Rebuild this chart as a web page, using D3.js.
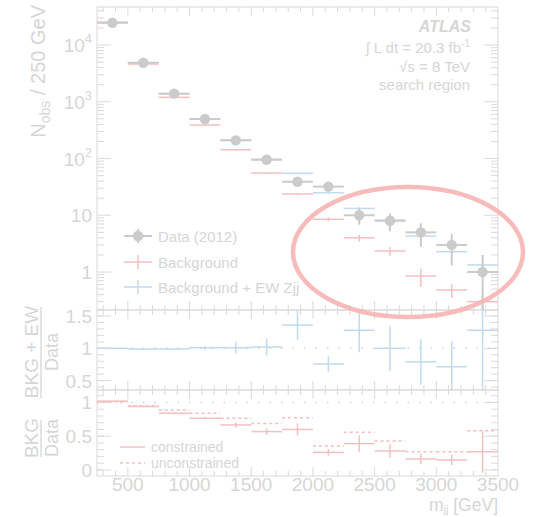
<!DOCTYPE html>
<html><head><meta charset="utf-8">
<script src="https://cdn.jsdelivr.net/npm/d3@7"></script>
<style>
html,body{margin:0;padding:0;background:#fff;}
text{font-family:"Liberation Sans",Arial,Helvetica,sans-serif;}
</style></head>
<body>
<svg id="c" width="533" height="517"></svg>
<script>
// ---------------- data ----------------
const binEdges = [250,500,750,1000,1250,1500,1750,2000,2250,2500,2750,3000,3250,3500];
const dataN    = [24700,4870,1390,497,209,95,39,32,10,8,5,3,1];
const dataErr  = [157,70,37,22,14.5,9.7,6.2,5.7,3.2,2.8,2.2,1.7,1.0];
const bkg      = [25200,4630,1197,389,143,55.5,23.7,8.5,4.0,2.34,0.85,0.48,0.30];
const bkgErr   = [100,40,15,6,3,1.5,0.9,0.7,0.55,0.42,0.3,0.13,0.1];
const bkgEW    = [24700,4820,1376,502,211,97,54.8,25,13.2,8.2,4.3,2.28,1.33];
const bkgEWErr = [100,40,15,6,3,1.5,1.2,0.8,0.6,0.45,0.3,0.15,0.12];
const ratioEW     = [1.0,0.99,0.99,1.01,1.01,1.02,1.36,0.757,1.28,1.0,0.79,0.715,1.28];
const ratioEWErr  = [0.01,0.01,0.015,0.03,0.09,0.13,0.23,0.12,0.34,0.35,0.35,0.39,1.3];
const ratioCon    = [1.02,0.94,0.84,0.766,0.667,0.568,0.60,0.26,0.39,0.28,0.163,0.148,0.27];
const ratioConErr = [0.005,0.01,0.015,0.02,0.04,0.05,0.09,0.05,0.12,0.1,0.075,0.075,0.31];
const ratioUncon  = [1.01,0.95,0.89,0.84,0.766,0.69,0.775,0.355,0.56,0.43,0.27,0.27,0.58];
const xTickLabels = [500,1000,1500,2000,2500,3000,3500];
const mainTickLabels = [1,10,100,1000,10000];
const midTickLabels = [0.5,1,1.5];
const botTickLabels = [0,0.5,1];

// ---------------- style ----------------
const TXT = "#d6d6d6", FRAME = "#dadada", DATA = "#cbcbcb", RED = "#f5bfbf", BLUE = "#c3d9ee", DOT = "#d2d2d2";

const svg = d3.select("#c");
const X0 = 97, X1 = 498;
const x = d3.scaleLinear().domain([250,3500]).range([X0,X1]);
const yMain = d3.scaleLog().domain([0.214,46800]).range([310,7]);
const yMid = d3.scaleLinear().domain([0.355,1.593]).range([390,310]);
const yBot = d3.scaleLinear().domain([-0.09,1.185]).range([476,390]);

const bins = dataN.map((d,i)=>({i, lo:binEdges[i], hi:binEdges[i+1], c:(binEdges[i]+binEdges[i+1])/2}));

function clampY(y, v){ const r=y.range(); const lo=Math.min(r[0],r[1]), hi=Math.max(r[0],r[1]); return Math.max(lo,Math.min(hi,v)); }
function yv(y, v){ if (y===yMain && v<=0) return yMain.range()[0]; return clampY(y, y(v)); }

// frames and ticks
function panelFrame(y, top, bottom, majorY, minorY){
  const g = svg.append("g");
  g.append("rect").attr("x",X0).attr("y",top).attr("width",X1-X0).attr("height",bottom-top)
    .attr("fill","none").attr("stroke",FRAME).attr("stroke-width",1);
  const xMinor = d3.range(300,3500,100);
  xMinor.forEach(v=>{
    const major = v%500===0;
    const L = major?9:5;
    g.append("line").attr("x1",x(v)).attr("x2",x(v)).attr("y1",bottom).attr("y2",bottom-L).attr("stroke",FRAME);
    g.append("line").attr("x1",x(v)).attr("x2",x(v)).attr("y1",top).attr("y2",top+L).attr("stroke",FRAME);
  });
  minorY.forEach(v=>{
    const yy=y(v); if (yy<top-0.5||yy>bottom+0.5) return;
    g.append("line").attr("x1",X0).attr("x2",X0+7).attr("y1",yy).attr("y2",yy).attr("stroke",FRAME);
    g.append("line").attr("x1",X1).attr("x2",X1-7).attr("y1",yy).attr("y2",yy).attr("stroke",FRAME);
  });
  majorY.forEach(v=>{
    const yy=y(v); if (yy<top-0.5||yy>bottom+0.5) return;
    g.append("line").attr("x1",X0).attr("x2",X0+14).attr("y1",yy).attr("y2",yy).attr("stroke",FRAME);
    g.append("line").attr("x1",X1).attr("x2",X1-14).attr("y1",yy).attr("y2",yy).attr("stroke",FRAME);
  });
}
const logMinor = [];
[0.1,1,10,100,1000,10000].forEach(d=>{ for(let k=2;k<=9;k++) logMinor.push(d*k); });
panelFrame(yMain, 7, 310, mainTickLabels, logMinor);
panelFrame(yMid, 310, 390, midTickLabels, d3.range(0.4,1.61,0.1).map(v=>+v.toFixed(2)));
panelFrame(yBot, 390, 476, botTickLabels, d3.range(-0.0,1.19,0.1).map(v=>+v.toFixed(2)));

// tick labels
const FS = 19;
mainTickLabels.forEach(v=>{
  const t = svg.append("text").attr("x",92).attr("y",yMain(v)+7).attr("text-anchor","end")
    .attr("fill",TXT).attr("font-size",FS);
  if (v<=10) t.text(v);
  else { t.append("tspan").text("10"); t.append("tspan").attr("dy",-9).attr("font-size",13).text(Math.round(Math.log10(v))); }
});
midTickLabels.forEach(v=>{
  svg.append("text").attr("x",92).attr("y",yMid(v)+7).attr("text-anchor","end").attr("fill",TXT).attr("font-size",FS).text(v);
});
botTickLabels.forEach(v=>{
  svg.append("text").attr("x",92).attr("y",yBot(v)+7).attr("text-anchor","end").attr("fill",TXT).attr("font-size",FS).text(v);
});
xTickLabels.forEach(v=>{
  svg.append("text").attr("x",x(v)).attr("y",491).attr("text-anchor","middle").attr("fill",TXT).attr("font-size",FS).text(v);
});

// axis titles
const yt = svg.append("text").attr("transform","translate(45,5) rotate(-90)").attr("text-anchor","end")
  .attr("fill",TXT).attr("font-size",20);
yt.append("tspan").text("N");
yt.append("tspan").attr("dy",5).attr("font-size",14).text("obs");
yt.append("tspan").attr("dy",-5).text(" / 250 GeV");

function fracTitle(num, cy){
  svg.append("text").attr("transform",`translate(38,${cy}) rotate(-90)`).attr("text-anchor","middle")
    .attr("fill",TXT).attr("font-size",19).text(num);
  svg.append("text").attr("transform",`translate(58,${cy}) rotate(-90)`).attr("text-anchor","middle")
    .attr("fill",TXT).attr("font-size",18).text("Data");
}
fracTitle("BKG + EW", 352);
svg.append("line").attr("x1",41).attr("x2",41).attr("y1",307).attr("y2",398).attr("stroke",TXT).attr("stroke-width",1.3);
fracTitle("BKG", 438);
svg.append("line").attr("x1",41).attr("x2",41).attr("y1",420).attr("y2",457).attr("stroke",TXT).attr("stroke-width",1.3);

const xt = svg.append("text").attr("x",498).attr("y",511).attr("text-anchor","end").attr("fill",TXT).attr("font-size",17.5);
xt.append("tspan").text("m");
xt.append("tspan").attr("dy",1.5).attr("font-size",11).text("jj");
xt.append("tspan").attr("dy",-1.5).text(" [GeV]");

// ------------- main panel marks -------------
function hists(g, vals, errs, y, color, width, dash){
  const s = g.selectAll(null).data(bins).enter().append("g");
  s.append("line").attr("x1",d=>x(d.lo)).attr("x2",d=>x(d.hi))
    .attr("y1",d=>yv(y,vals[d.i])).attr("y2",d=>yv(y,vals[d.i]))
    .attr("stroke",color).attr("stroke-width",width).attr("stroke-dasharray",dash||null);
  if (errs) s.append("line").attr("x1",d=>x(d.c)).attr("x2",d=>x(d.c))
    .attr("y1",d=>yv(y,vals[d.i]-errs[d.i])).attr("y2",d=>yv(y,vals[d.i]+errs[d.i]))
    .attr("stroke",color).attr("stroke-width",width);
}
const gm = svg.append("g");
hists(gm, bkg, bkgErr, yMain, RED, 1.5);
hists(gm, bkgEW, bkgEWErr, yMain, BLUE, 1.5);
// data
const gd = gm.selectAll(null).data(bins).enter().append("g");
gd.append("line").attr("x1",d=>x(d.lo)).attr("x2",d=>x(d.hi))
  .attr("y1",d=>yMain(dataN[d.i])).attr("y2",d=>yMain(dataN[d.i])).attr("stroke",DATA).attr("stroke-width",2);
gd.append("line").attr("x1",d=>x(d.c)).attr("x2",d=>x(d.c))
  .attr("y1",d=>yv(yMain,dataN[d.i]-dataErr[d.i])).attr("y2",d=>yv(yMain,dataN[d.i]+dataErr[d.i]))
  .attr("stroke",DATA).attr("stroke-width",2);
gd.append("circle").attr("cx",d=>x(d.c)).attr("cy",d=>yMain(dataN[d.i])).attr("r",5.2).attr("fill",DATA);

// legend main
function legLine(y0, color, w){
  svg.append("line").attr("x1",124).attr("x2",152).attr("y1",y0).attr("y2",y0).attr("stroke",color).attr("stroke-width",w);
  svg.append("line").attr("x1",138).attr("x2",138).attr("y1",y0-7).attr("y2",y0+7).attr("stroke",color).attr("stroke-width",w);
}
legLine(236, DATA, 2);
svg.append("circle").attr("cx",138).attr("cy",236).attr("r",5.2).attr("fill",DATA);
legLine(262, RED, 1.5);
legLine(287, BLUE, 1.5);
[["Data (2012)",236],["Background",262],["Background + EW Zjj",287]].forEach(([t,yy])=>{
  svg.append("text").attr("x",158).attr("y",yy+5.5).attr("fill",TXT).attr("font-size",15).text(t);
});

// ATLAS label
svg.append("text").attr("x",471).attr("y",32).attr("text-anchor","end").attr("fill",TXT)
  .attr("font-size",16).attr("font-weight","bold").attr("font-style","italic").text("ATLAS");
const lum = svg.append("text").attr("x",470).attr("y",53).attr("text-anchor","end").attr("fill",TXT).attr("font-size",15);
lum.append("tspan").text("\u222B L dt = 20.3 fb");
lum.append("tspan").attr("dy",-6).attr("font-size",10).text("-1");
svg.append("text").attr("x",470).attr("y",72).attr("text-anchor","end").attr("fill",TXT).attr("font-size",15).text("\u221As = 8 TeV");
svg.append("text").attr("x",470).attr("y",90).attr("text-anchor","end").attr("fill",TXT).attr("font-size",15).text("search region");

// ------------- ratio panels -------------
svg.append("line").attr("x1",X0).attr("x2",X1).attr("y1",yMid(1)).attr("y2",yMid(1)).attr("stroke",DOT).attr("stroke-width",1.5).attr("stroke-dasharray","1.5,10");
svg.append("line").attr("x1",X0).attr("x2",X1).attr("y1",yBot(1)).attr("y2",yBot(1)).attr("stroke",DOT).attr("stroke-width",1.5).attr("stroke-dasharray","1.5,10");
const gr = svg.append("g");
hists(gr, ratioEW, ratioEWErr, yMid, BLUE, 1.5);
hists(gr, ratioUncon, null, yBot, RED, 1.5, "3,3");
hists(gr, ratioCon, ratioConErr, yBot, RED, 1.5);

// ratio legend
svg.append("line").attr("x1",120).attr("x2",145).attr("y1",447).attr("y2",447).attr("stroke",RED).attr("stroke-width",1.5);
svg.append("line").attr("x1",120).attr("x2",145).attr("y1",463).attr("y2",463).attr("stroke",RED).attr("stroke-width",1.5).attr("stroke-dasharray","3,3");
svg.append("text").attr("x",151).attr("y",452).attr("fill",TXT).attr("font-size",14).text("constrained");
svg.append("text").attr("x",151).attr("y",468).attr("fill",TXT).attr("font-size",14).text("unconstrained");

// annotation ellipse
svg.append("ellipse").attr("cx",408).attr("cy",252).attr("rx",115).attr("ry",65)
  .attr("fill","none").attr("stroke","#f6b4b4").attr("stroke-width",4.5).attr("opacity",0.9);
</script>
</body></html>
